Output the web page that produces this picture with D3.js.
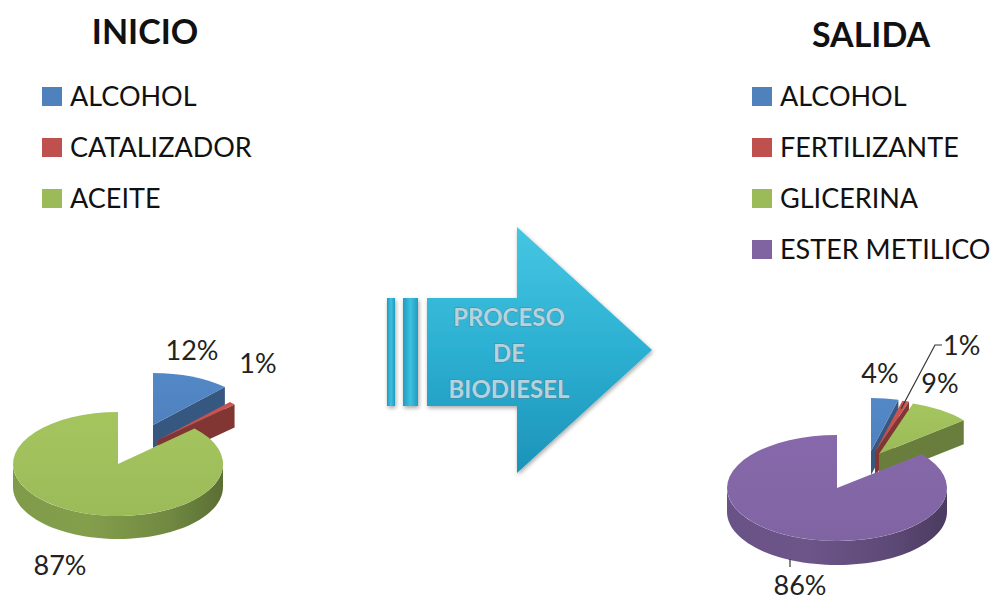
<!DOCTYPE html>
<html><head><meta charset="utf-8">
<script src="https://cdnjs.cloudflare.com/ajax/libs/d3/7.8.5/d3.min.js"></script>
<style>body{margin:0;background:#fff}svg{display:block}</style></head>
<body>
<svg id="c" width="1003" height="603"></svg>
<script>
// ---------- data ----------
const inicioTitle = "INICIO";
const inicioCategories = ["ALCOHOL", "CATALIZADOR", "ACEITE"];
const inicioValues = [12, 1, 87];
const inicioLabels = ["12%", "1%", "87%"];

const salidaTitle = "SALIDA";
const salidaCategories = ["ALCOHOL", "FERTILIZANTE", "GLICERINA", "ESTER METILICO"];
const salidaValues = [4, 1, 9, 86];
const salidaLabels = ["4%", "1%", "9%", "86%"];

const processLines = ["PROCESO", "DE", "BIODIESEL"];

// ---------- styles / layout ----------
const FONT = "Lato, 'Open Sans', sans-serif";
const inicioColors = ["#4f81bd", "#c0504d", "#9bbb59"];
const salidaColors = ["#4f81bd", "#c0504d", "#9bbb59", "#8064a2"];

const inicioLayout = {
  cx: 118, cy: 464, rx: 105, ry: 52, depth: 23,
  explode: [[35, -39], [40, -24], [0, 0]],
  labelPos: [[74, -114], [140, -101], [-58, 101]],
  legend: {x: 42, y: 96, step: 51}, title: {x: 145, y: 32}
};
const salidaLayout = {
  cx: 837, cy: 488, rx: 110, ry: 53, depth: 24,
  explode: [[34, -37], [38, -36], [42, -34], [0, 0]],
  labelPos: [[43, -115], [106, -143], [103, -105], [-37, 97]],
  legend: {x: 752, y: 96, step: 51}, title: {x: 871, y: 35}
};

const svg = d3.select("#c");
const defs = svg.append("defs");

function wallGradient(id, color) {
  const c = d3.color(color);
  const g = defs.append("linearGradient").attr("id", id).attr("x1", 0).attr("x2", 1).attr("y1", 0).attr("y2", 0);
  g.append("stop").attr("offset", "0%").attr("stop-color", c.darker(0.55));
  g.append("stop").attr("offset", "35%").attr("stop-color", c.darker(0.45));
  g.append("stop").attr("offset", "75%").attr("stop-color", c.darker(0.9));
  g.append("stop").attr("offset", "100%").attr("stop-color", c.darker(1.5));
}
function topGradient(id, color) {
  const c = d3.color(color);
  const g = defs.append("linearGradient").attr("id", id).attr("x1", 0).attr("x2", 0).attr("y1", 0).attr("y2", 1);
  g.append("stop").attr("offset", "0%").attr("stop-color", c.brighter(0.15));
  g.append("stop").attr("offset", "100%").attr("stop-color", c);
}

function pie3d(key, values, colors, L) {
  const g = svg.append("g");
  const arcs = d3.pie().sort(null)(values);
  arcs.forEach((a, i) => {
    a.i = i;
    a.mid = (a.startAngle + a.endAngle) / 2;
    a.cx = L.cx + L.explode[i][0];
    a.cy = L.cy + L.explode[i][1];
    wallGradient(`${key}w${i}`, colors[i]);
    topGradient(`${key}t${i}`, colors[i]);
  });
  const P = (a, ang) => [a.cx + L.rx * Math.sin(ang), a.cy - L.ry * Math.cos(ang)];
  const order = arcs.slice().sort((a, b) => Math.cos(b.mid) - Math.cos(a.mid));
  const topArc = d3.arc().innerRadius(0).outerRadius(1);
  order.forEach(a => {
    const col = d3.color(colors[a.i]);
    const sg = g.append("g");
    const face = (ang) => {
      const p = P(a, ang);
      return `M${a.cx},${a.cy}L${p[0]},${p[1]}L${p[0]},${p[1] + L.depth}L${a.cx},${a.cy + L.depth}Z`;
    };
    if (-Math.sin(a.startAngle) > 0.001)
      sg.append("path").attr("d", face(a.startAngle)).attr("fill", col.darker(0.9));
    if (Math.sin(a.endAngle) > 0.001)
      sg.append("path").attr("d", face(a.endAngle)).attr("fill", col.darker(1.1));
    const lo = Math.max(a.startAngle, Math.PI / 2), hi = Math.min(a.endAngle, 3 * Math.PI / 2);
    if (hi > lo) {
      const n = 60, top = [], bot = [];
      for (let k = 0; k <= n; k++) {
        const ang = lo + (hi - lo) * k / n;
        const p = P(a, ang);
        top.push(p); bot.push([p[0], p[1] + L.depth]);
      }
      const line = d3.line();
      sg.append("path").attr("d", line(top.concat(bot.reverse())) + "Z")
        .attr("fill", `url(#${key}w${a.i})`);
    }
    sg.append("path")
      .attr("transform", `translate(${a.cx},${a.cy}) scale(${L.rx},${L.ry})`)
      .attr("d", topArc(a))
      .attr("fill", `url(#${key}t${a.i})`);
  });
  return arcs;
}

function legend(title, cats, colors, L) {
  svg.append("text").attr("x", L.title.x).attr("y", L.title.y + 12)
    .attr("text-anchor", "middle").attr("font-family", FONT).attr("font-weight", 700)
    .attr("font-size", 34).attr("fill", "#111").text(title);
  cats.forEach((c, i) => {
    const y = L.legend.y + i * L.legend.step;
    svg.append("rect").attr("x", L.legend.x).attr("y", y - 9).attr("width", 20).attr("height", 19)
      .attr("fill", colors[i]);
    svg.append("text").attr("x", L.legend.x + 28).attr("y", y + 9.5)
      .attr("font-family", FONT).attr("font-size", 27).attr("fill", "#111").text(c);
  });
}

function labels(texts, L, anchors) {
  texts.forEach((t, i) => {
    svg.append("text").attr("x", L.cx + L.labelPos[i][0]).attr("y", L.cy + L.labelPos[i][1] + 10)
      .attr("text-anchor", anchors ? anchors[i] : "middle")
      .attr("font-family", FONT).attr("font-size", 27).attr("fill", "#222").text(t);
  });
}

legend(inicioTitle, inicioCategories, inicioColors, inicioLayout);
legend(salidaTitle, salidaCategories, salidaColors, salidaLayout);
pie3d("a", inicioValues, inicioColors, inicioLayout);
const sArcs = pie3d("b", salidaValues, salidaColors, salidaLayout);
labels(inicioLabels, inicioLayout);
labels(salidaLabels, salidaLayout, ["middle", "start", "middle", "middle"]);

{
  const L = salidaLayout;
  const a = sArcs[1];
  const sx = a.cx + L.rx * 0.85 * Math.sin(a.mid), sy = a.cy - L.ry * 0.85 * Math.cos(a.mid);
  const tx = L.cx + L.labelPos[1][0], ty = L.cy + L.labelPos[1][1];
  svg.append("path").attr("d", `M${sx},${sy}L${tx - 8},${ty}L${tx - 1},${ty}`)
    .attr("fill", "none").attr("stroke", "#333").attr("stroke-width", 1.2);
  const lx = L.cx + L.labelPos[3][0] - 10;
  svg.append("path").attr("d", `M${lx},${L.cy + L.ry + L.depth - 6}L${lx},${L.cy + L.labelPos[3][1] - 18}`)
    .attr("fill", "none").attr("stroke", "#333").attr("stroke-width", 1.2);
}

{
  const ag = defs.append("linearGradient").attr("id", "arr").attr("x1", 0).attr("x2", 0).attr("y1", 0).attr("y2", 1);
  ag.append("stop").attr("offset", "0%").attr("stop-color", "#45c6e2");
  ag.append("stop").attr("offset", "50%").attr("stop-color", "#2cb0d2");
  ag.append("stop").attr("offset", "100%").attr("stop-color", "#1c93b8");
  const bg = defs.append("linearGradient").attr("id", "arrb").attr("x1", 0).attr("x2", 1).attr("y1", 0).attr("y2", 0);
  bg.append("stop").attr("offset", "0%").attr("stop-color", "#1f9cc0");
  bg.append("stop").attr("offset", "50%").attr("stop-color", "#3fc0de");
  bg.append("stop").attr("offset", "100%").attr("stop-color", "#1f9cc0");
  const flt = defs.append("filter").attr("id", "sh").attr("x", "-10%").attr("y", "-10%").attr("width", "130%").attr("height", "130%");
  flt.append("feGaussianBlur").attr("in", "SourceAlpha").attr("stdDeviation", 2);
  flt.append("feOffset").attr("dx", 1).attr("dy", 2).attr("result", "b");
  flt.append("feComponentTransfer").append("feFuncA").attr("type", "linear").attr("slope", 0.35);
  const m = flt.append("feMerge"); m.append("feMergeNode"); m.append("feMergeNode").attr("in", "SourceGraphic");

  const A = svg.append("g").attr("filter", "url(#sh)");
  A.append("rect").attr("x", 387).attr("y", 298).attr("width", 8).attr("height", 108).attr("fill", "url(#arrb)");
  A.append("rect").attr("x", 403).attr("y", 298).attr("width", 15).attr("height", 108).attr("fill", "url(#arrb)");
  A.append("path").attr("d", "M427,298L517,298L517,227L652,350L517,473L517,406L427,406Z").attr("fill", "url(#arr)");
  processLines.forEach((t, i) => {
    svg.append("text").attr("x", 509).attr("y", 326 + i * 36).attr("text-anchor", "middle")
      .attr("font-family", FONT).attr("font-size", 24).attr("font-weight", 700).attr("fill", "#b3d4df")
      .attr("stroke", "#4f8598").attr("stroke-width", 0.9).attr("paint-order", "stroke").text(t);
  });
}
</script>
</body></html>
